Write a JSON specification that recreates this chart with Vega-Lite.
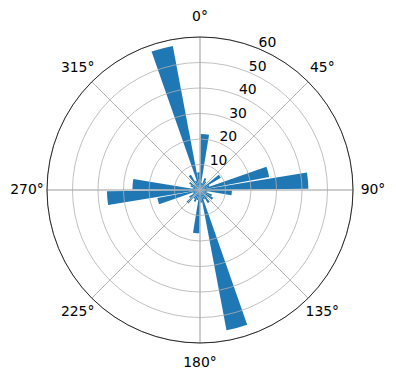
{
  "$schema": "https://vega.github.io/schema/vega-lite/v6.json",
  "width": 400,
  "height": 380,
  "autosize": "none",
  "padding": 0,
  "background": "white",
  "config": {"view": {"stroke": null}},
  "datasets": {
    "bars": [
      {"dir": 5, "value": 22}, {"dir": 15, "value": 3}, {"dir": 25, "value": 5}, {"dir": 35, "value": 4},
      {"dir": 45, "value": 3}, {"dir": 55, "value": 9.5}, {"dir": 65, "value": 4}, {"dir": 75, "value": 27.6},
      {"dir": 85, "value": 42.5}, {"dir": 95, "value": 12.5}, {"dir": 105, "value": 3}, {"dir": 115, "value": 5},
      {"dir": 125, "value": 6}, {"dir": 135, "value": 4}, {"dir": 145, "value": 6}, {"dir": 155, "value": 4},
      {"dir": 165, "value": 56}, {"dir": 175, "value": 5}, {"dir": 185, "value": 17}, {"dir": 195, "value": 4},
      {"dir": 205, "value": 5}, {"dir": 215, "value": 4}, {"dir": 225, "value": 7}, {"dir": 235, "value": 5},
      {"dir": 245, "value": 3}, {"dir": 255, "value": 17}, {"dir": 265, "value": 36.5}, {"dir": 275, "value": 26.5},
      {"dir": 285, "value": 3}, {"dir": 295, "value": 4}, {"dir": 305, "value": 5}, {"dir": 315, "value": 3},
      {"dir": 325, "value": 7}, {"dir": 335, "value": 4}, {"dir": 345, "value": 57.5}, {"dir": 355, "value": 7}
    ],
    "rings": [{"r": 10}, {"r": 20}, {"r": 30}, {"r": 40}, {"r": 50}, {"r": 60}],
    "spokes": [
      {"angle": 0, "label": "0°", "r": 60}, {"angle": 45, "label": "45°", "r": 60},
      {"angle": 90, "label": "90°", "r": 60}, {"angle": 135, "label": "135°", "r": 60},
      {"angle": 180, "label": "180°", "r": 60}, {"angle": 225, "label": "225°", "r": 60},
      {"angle": 270, "label": "270°", "r": 60}, {"angle": 315, "label": "315°", "r": 60}
    ],
    "rlabels": [
      {"angle": 22.5, "r": 10}, {"angle": 22.5, "r": 20}, {"angle": 22.5, "r": 30},
      {"angle": 22.5, "r": 40}, {"angle": 22.5, "r": 50}, {"angle": 22.5, "r": 60}
    ]
  },
  "layer": [
    {
      "data": {"name": "bars"},
      "transform": [{"bin": {"step": 10, "extent": [0, 360]}, "field": "dir", "as": ["d0", "d1"]}],
      "mark": {"type": "arc", "color": "#1f77b4", "padAngle": 0.0244},
      "encoding": {
        "theta": {"field": "d0", "type": "quantitative", "stack": null, "scale": {"domain": [0, 360], "range": [0, 6.283185307179586], "zero": true, "nice": false}},
        "theta2": {"field": "d1"},
        "radius": {"field": "value", "type": "quantitative", "stack": null, "scale": {"domain": [0, 60], "range": [0, 153], "zero": true, "nice": false}}
      }
    },
    {
      "data": {"name": "rings"},
      "mark": {"type": "arc", "filled": false, "stroke": "#b0b0b0", "strokeWidth": 0.8, "theta": 0, "theta2": 6.2832},
      "encoding": {
        "radius": {"field": "r", "type": "quantitative", "stack": null}
      }
    },
    {
      "data": {"name": "spokes"},
      "mark": {"type": "arc", "filled": false, "stroke": "#b0b0b0", "strokeWidth": 0.8},
      "encoding": {
        "theta": {"field": "angle", "type": "quantitative", "stack": null},
        "theta2": {"field": "angle"},
        "radius": {"field": "r", "type": "quantitative", "stack": null}
      }
    },
    {
      "data": {"name": "rings"},
      "transform": [{"filter": "datum.r == 60"}],
      "mark": {"type": "arc", "filled": false, "stroke": "black", "strokeWidth": 0.8, "theta": 0, "theta2": 6.2832},
      "encoding": {
        "radius": {"field": "r", "type": "quantitative", "stack": null}
      }
    },
    {
      "data": {"name": "spokes"},
      "mark": {"type": "text", "font": "DejaVu Sans", "fontSize": 13.9, "color": "black", "align": "center", "baseline": "middle", "radiusOffset": 20},
      "encoding": {
        "theta": {"field": "angle", "type": "quantitative", "stack": null},
        "radius": {"field": "r", "type": "quantitative", "stack": null},
        "text": {"field": "label"}
      }
    },
    {
      "data": {"name": "rlabels"},
      "mark": {"type": "text", "font": "DejaVu Sans", "fontSize": 13.9, "color": "black", "align": "left", "baseline": "alphabetic", "dy": -1.5},
      "encoding": {
        "theta": {"field": "angle", "type": "quantitative", "stack": null},
        "radius": {"field": "r", "type": "quantitative", "stack": null},
        "text": {"field": "r", "type": "quantitative"}
      }
    }
  ]
}
